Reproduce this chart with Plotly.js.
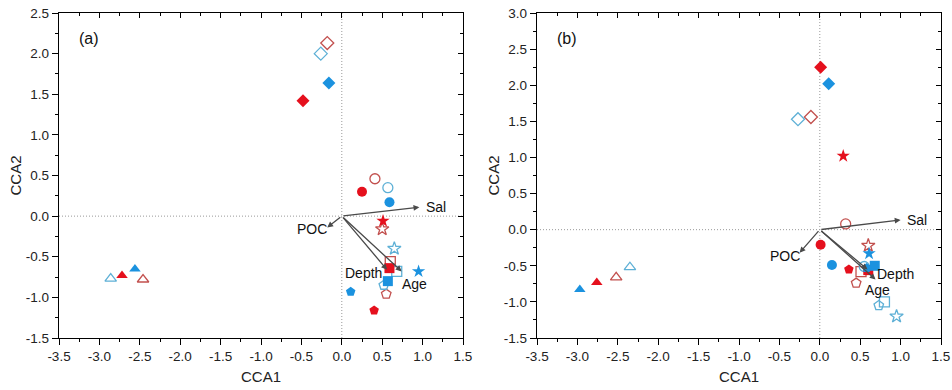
<!DOCTYPE html>
<html>
<head>
<meta charset="utf-8">
<script src="https://cdn.plot.ly/plotly-3.0.1.min.js"></script>
<style>html,body{margin:0;padding:0;background:#fff}#chart{width:952px;height:390px}</style>
</head>
<body>
<div id="chart"></div>
<script>
// Marker shapes shared by all series (same order as the value arrays)
const shapes = ['triangle-up', 'diamond', 'circle', 'star', 'square', 'pentagon'];

// Panel (a)
const aRedFilledX  = [-2.72, -0.48, 0.25, 0.51, 0.59, 0.40];
const aRedFilledY  = [-0.73,  1.42, 0.30, -0.06, -0.64, -1.16];
const aRedOpenX    = [-2.46, -0.18, 0.41, 0.50, 0.60, 0.55];
const aRedOpenY    = [-0.78,  2.13, 0.46, -0.16, -0.56, -0.96];
const aBlueFilledX = [-2.56, -0.16, 0.59, 0.95, 0.57, 0.11];
const aBlueFilledY = [-0.65,  1.64, 0.17, -0.68, -0.80, -0.93];
const aBlueOpenX   = [-2.86, -0.26, 0.57, 0.65, 0.68, 0.52];
const aBlueOpenY   = [-0.77,  2.00, 0.35, -0.40, -0.68, -0.85];

// Panel (b)
const bRedFilledX  = [-2.76, 0.01, 0.01, 0.29, 0.60, 0.36];
const bRedFilledY  = [-0.73, 2.25, -0.21, 1.02, -0.56, -0.55];
const bRedOpenX    = [-2.52, -0.11, 0.32, 0.60, 0.51, 0.45];
const bRedOpenY    = [-0.66, 1.56, 0.08, -0.22, -0.58, -0.74];
const bBlueFilledX = [-2.97, 0.11, 0.15, 0.61, 0.68, 0.58];
const bBlueFilledY = [-0.83, 2.02, -0.49, -0.33, -0.50, -0.53];
const bBlueOpenX   = [-2.35, -0.27, 0.55, 0.95, 0.80, 0.73];
const bBlueOpenY   = [-0.52, 1.53, -0.51, -1.20, -1.00, -1.05];

// Environmental vectors
const vecNames = ['Sal', 'POC', 'Depth', 'Age'];
const aVecX = [0.96, -0.18, 0.56, 0.74];
const aVecY = [0.11, -0.14, -0.66, -0.68];
const bVecX = [1.00, -0.25, 0.59, 0.69];
const bVecY = [0.135, -0.32, -0.55, -0.69];
const aLabX = [1.16, -0.37, 0.27, 0.90];
const aLabY = [0.11, -0.16, -0.70, -0.83];
const bLabX = [1.20, -0.43, 0.94, 0.72];
const bLabY = [0.13, -0.37, -0.62, -0.83];

// Tick labels
const xTicks = [-3.5, -3.0, -2.5, -2.0, -1.5, -1.0, -0.5, 0.0, 0.5, 1.0, 1.5];
const aYTicks = [-1.5, -1.0, -0.5, 0.0, 0.5, 1.0, 1.5, 2.0, 2.5];
const bYTicks = [-1.5, -1.0, -0.5, 0.0, 0.5, 1.0, 1.5, 2.0, 2.5, 3.0];
const fmt = v => v.toFixed(1);

const RED = '#e5101d', BLUE = '#1b92df', RED_OPEN = '#c2504e', BLUE_OPEN = '#5eb0d6';

function series(x, y, color, open, xa, ya) {
  return {
    type: 'scatter', mode: 'markers', x: x, y: y, xaxis: xa, yaxis: ya,
    showlegend: false, hoverinfo: 'skip',
    marker: {
      symbol: shapes.map(s => open ? s + '-open' : s),
      size: 10, color: color,
      line: {color: color, width: open ? 1.3 : 0}
    }
  };
}

const traces = [
  series(aRedOpenX, aRedOpenY, RED_OPEN, true, 'x', 'y'),
  series(aBlueOpenX, aBlueOpenY, BLUE_OPEN, true, 'x', 'y'),
  series(aRedFilledX, aRedFilledY, RED, false, 'x', 'y'),
  series(aBlueFilledX, aBlueFilledY, BLUE, false, 'x', 'y'),
  series(bRedOpenX, bRedOpenY, RED_OPEN, true, 'x2', 'y2'),
  series(bBlueOpenX, bBlueOpenY, BLUE_OPEN, true, 'x2', 'y2'),
  series(bRedFilledX, bRedFilledY, RED, false, 'x2', 'y2'),
  series(bBlueFilledX, bBlueFilledY, BLUE, false, 'x2', 'y2'),
  {type: 'scatter', x: [], y: [], xaxis: 'x3', yaxis: 'y3', showlegend: false},
  {type: 'scatter', x: [], y: [], xaxis: 'x4', yaxis: 'y4', showlegend: false}
];

const tickFont = {family: 'Liberation Sans, Arial, sans-serif', size: 13.5, color: '#222'};
const titleFont = {family: 'Liberation Sans, Arial, sans-serif', size: 15, color: '#222'};

const xDomA = [59/952, 463/952], xDomB = [537/952, 941/952];
const yDom = [52/390, 377/390];

function mainX(dom, anchor) {
  return {
    domain: dom, anchor: anchor, range: [-3.5, 1.5], autorange: false,
    tickmode: 'array', tickvals: xTicks, ticktext: xTicks.map(fmt),
    ticks: 'outside', ticklen: 6, tickwidth: 1, tickcolor: '#000',
    minor: {tickmode: 'linear', tick0: -3.5, dtick: 0.25, ticks: 'outside', ticklen: 3, tickcolor: '#000'},
    showline: true, mirror: true, linecolor: '#000', linewidth: 1.2,
    showgrid: false, zeroline: false, tickfont: tickFont,
    title: {text: 'CCA1', font: titleFont, standoff: 8}
  };
}
function mainY(dom, anchor, range, ticks) {
  return {
    domain: dom, anchor: anchor, range: range, autorange: false,
    tickmode: 'array', tickvals: ticks, ticktext: ticks.map(fmt),
    ticks: 'outside', ticklen: 6, tickwidth: 1, tickcolor: '#000',
    minor: {tickmode: 'linear', tick0: range[0], dtick: 0.25, ticks: 'outside', ticklen: 3, tickcolor: '#000'},
    showline: true, mirror: true, linecolor: '#000', linewidth: 1.2,
    showgrid: false, zeroline: false, tickfont: tickFont,
    title: {text: 'CCA2', font: titleFont, standoff: 0}
  };
}
function topX(over, anchor) {
  return {
    overlaying: over, side: 'top', anchor: anchor, range: [-3.5, 1.5], autorange: false,
    tickmode: 'array', tickvals: xTicks, showticklabels: false,
    ticks: 'inside', ticklen: 5, tickcolor: '#000',
    minor: {tickmode: 'linear', tick0: -3.5, dtick: 0.25, ticks: 'inside', ticklen: 3, tickcolor: '#000'},
    showline: false, showgrid: false, zeroline: false
  };
}
function rightY(over, anchor, range, ticks) {
  return {
    overlaying: over, side: 'right', anchor: anchor, range: range, autorange: false,
    tickmode: 'array', tickvals: ticks, showticklabels: false,
    ticks: 'inside', ticklen: 5, tickcolor: '#000',
    minor: {tickmode: 'linear', tick0: range[0], dtick: 0.25, ticks: 'inside', ticklen: 3, tickcolor: '#000'},
    showline: false, showgrid: false, zeroline: false
  };
}

const annFont = {family: 'Liberation Sans, Arial, sans-serif', size: 14, color: '#111'};
const annotations = [];
function addVectors(vx, vy, lx, ly, xr, yr) {
  for (let i = 0; i < vecNames.length; i++) {
    annotations.push({
      x: vx[i], y: vy[i], ax: 0, ay: 0, xref: xr, yref: yr, axref: xr, ayref: yr,
      text: '', showarrow: true, arrowhead: 2, arrowsize: 0.9, arrowwidth: 1.3, arrowcolor: '#4a4a4a'
    });
    annotations.push({
      x: lx[i], y: ly[i], xref: xr, yref: yr, text: vecNames[i], showarrow: false, font: annFont
    });
  }
}
addVectors(aVecX, aVecY, aLabX, aLabY, 'x', 'y');
addVectors(bVecX, bVecY, bLabX, bLabY, 'x2', 'y2');
annotations.push({x: 0.045, y: 0.955, xref: 'x domain', yref: 'y domain', xanchor: 'left', yanchor: 'top',
  text: '(a)', showarrow: false, font: {family: 'Liberation Sans, Arial, sans-serif', size: 16, color: '#111'}});
annotations.push({x: 0.045, y: 0.955, xref: 'x2 domain', yref: 'y2 domain', xanchor: 'left', yanchor: 'top',
  text: '(b)', showarrow: false, font: {family: 'Liberation Sans, Arial, sans-serif', size: 16, color: '#111'}});

const dotLine = {color: '#999', width: 1, dash: '1px,2px'};
const zeroShapes = [
  {type: 'line', xref: 'x', yref: 'y domain', x0: 0, x1: 0, y0: 0, y1: 1, line: dotLine, layer: 'below'},
  {type: 'line', xref: 'x domain', yref: 'y', x0: 0, x1: 1, y0: 0, y1: 0, line: dotLine, layer: 'below'},
  {type: 'line', xref: 'x2', yref: 'y2 domain', x0: 0, x1: 0, y0: 0, y1: 1, line: dotLine, layer: 'below'},
  {type: 'line', xref: 'x2 domain', yref: 'y2', x0: 0, x1: 1, y0: 0, y1: 0, line: dotLine, layer: 'below'}
];

const layout = {
  width: 952, height: 390,
  margin: {l: 0, r: 0, t: 0, b: 0},
  paper_bgcolor: '#fff', plot_bgcolor: '#fff',
  showlegend: false,
  xaxis: mainX(xDomA, 'y'),
  yaxis: mainY(yDom, 'x', [-1.5, 2.5], aYTicks),
  xaxis2: mainX(xDomB, 'y2'),
  yaxis2: mainY(yDom, 'x2', [-1.5, 3.0], bYTicks),
  xaxis3: topX('x', 'y'),
  yaxis3: rightY('y', 'x', [-1.5, 2.5], aYTicks),
  xaxis4: topX('x2', 'y2'),
  yaxis4: rightY('y2', 'x2', [-1.5, 3.0], bYTicks),
  annotations: annotations,
  shapes: zeroShapes
};

Plotly.newPlot('chart', traces, layout, {displayModeBar: false, staticPlot: true});
</script>
</body>
</html>
